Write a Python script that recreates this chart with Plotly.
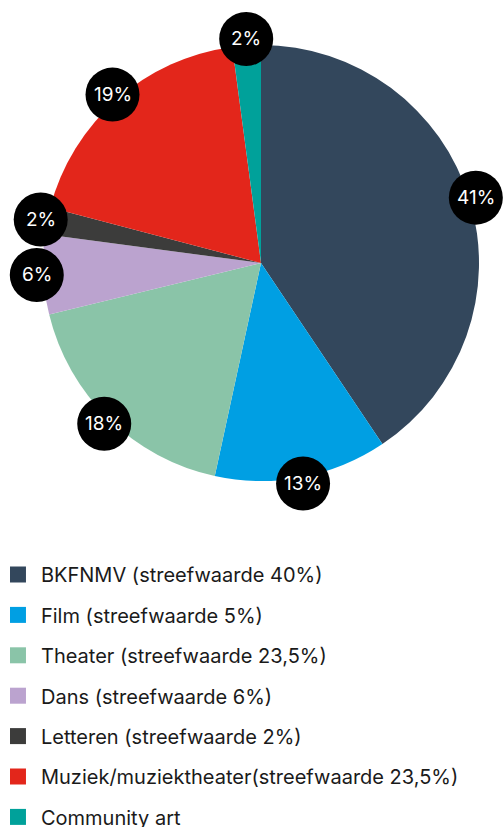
import math
import plotly.graph_objects as go

categories = ["BKFNMV", "Film", "Theater", "Dans", "Letteren", "Muziek/muziektheater", "Community art"]
legend_labels = [
    "BKFNMV (streefwaarde 40%)",
    "Film (streefwaarde 5%)",
    "Theater (streefwaarde 23,5%)",
    "Dans (streefwaarde 6%)",
    "Letteren (streefwaarde 2%)",
    "Muziek/muziektheater(streefwaarde 23,5%)",
    "Community art",
]
values = [40.6, 12.8, 17.8, 5.9, 2.0, 18.8, 2.1]
colors = ["#33475c", "#009fe3", "#8ac4a8", "#bba3cf", "#3c3c3b", "#e3261b", "#00a19a"]

W, H = 503, 827
cx, cy, R = 261, 263, 218
xdom = [(cx - R) / W, (cx + R) / W]
ydom = [1 - (cy + R) / H, 1 - (cy - R) / H]

FONT = "Inter"

fig = go.Figure()
fig.add_trace(go.Pie(
    labels=categories, values=values, sort=False, direction="clockwise", rotation=0,
    marker=dict(colors=colors, line=dict(width=0)),
    textinfo="none", hoverinfo="label+percent", showlegend=False,
    domain=dict(x=xdom, y=ydom),
))

# legend entries (one group each so the rows can be spaced)
for lab, col in zip(legend_labels, colors):
    fig.add_trace(go.Scatter(
        x=[None], y=[None], mode="markers", name=lab, legendgroup=lab,
        marker=dict(symbol="square", size=16, color=col),
    ))

# data-driven label badges on the pie rim (axes in pie-radius units, full paper)
total = sum(values)
cum = 0.0
label_r = 1.03
for v in values:
    mid = (cum + v / 2) / total * 2 * math.pi
    cum += v
    lx, ly = label_r * math.sin(mid), label_r * math.cos(mid)
    fig.add_shape(type="circle", xref="x", yref="y", xsizemode="pixel", ysizemode="pixel",
                  xanchor=lx, yanchor=ly, x0=-27, x1=27, y0=-27, y1=27,
                  fillcolor="black", line=dict(width=0), layer="above")
    fig.add_annotation(x=lx, y=ly, xref="x", yref="y", text=f"{round(v / total * 100)}%",
                       showarrow=False, font=dict(family=FONT, size=19, color="white"))

fig.update_layout(
    width=W, height=H, margin=dict(l=0, r=0, t=0, b=0, autoexpand=False),
    paper_bgcolor="white", plot_bgcolor="rgba(0,0,0,0)",
    xaxis=dict(domain=[0, 1], range=[-cx / R, (W - cx) / R], visible=False, fixedrange=True),
    yaxis=dict(domain=[0, 1], range=[-(H - cy) / R, cy / R], visible=False, fixedrange=True),
    showlegend=True,
    legend=dict(x=-0.01, xanchor="left", y=1 - 555 / H, yanchor="top",
                font=dict(family=FONT, size=20, color="#1a1a1a"),
                tracegroupgap=11.4, itemsizing="trace", itemwidth=36, bgcolor="rgba(0,0,0,0)"),
    font=dict(family=FONT),
)

fig.write_html("out.html", config={"displayModeBar": False},
               post_script="document.body.style.margin='0';document.body.style.overflow='hidden';")
